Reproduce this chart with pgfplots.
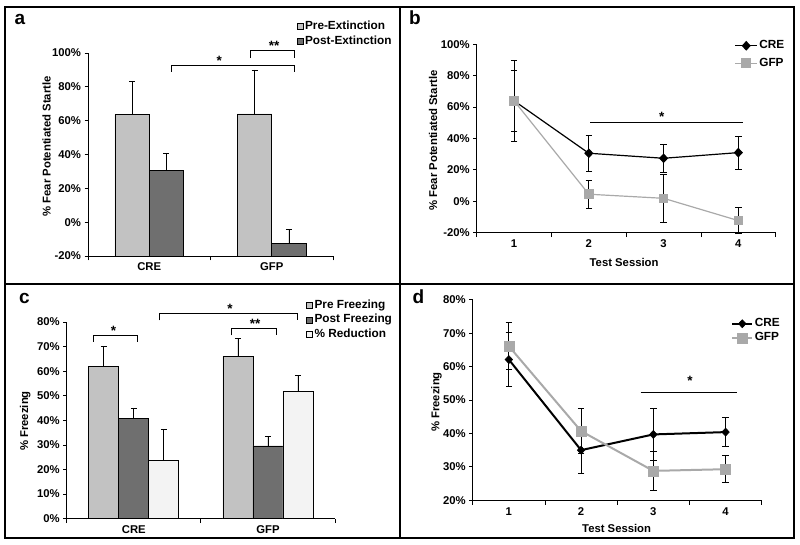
\documentclass[border=0pt]{standalone}
\usepackage{fontspec}
\setmainfont{Liberation Sans}
\usepackage{pgfplots}
\usepackage{pgfplotstable}
\pgfplotsset{compat=1.18}
\definecolor{preC}{HTML}{C2C2C2}
\definecolor{postC}{HTML}{6F6F6F}
\definecolor{redC}{HTML}{F3F3F3}
\definecolor{gfpC}{HTML}{A9A9A9}

\pgfplotstableread{
x pre preerr post posterr
0 63.5 19.5 30.8 10.0
1 64.0 26.0 -12.6 8.3
}\dataA
\pgfplotstableread{
x cre creerr gfp gfperr
1 64.0 19.5 64.0 26.0
2 30.6 11.3 4.5 8.7
3 27.4 9.1 1.9 15.5
4 31.0 10.4 -12.3 8.3
}\dataB
\pgfplotstableread{
x pre preerr post posterr red rederr
0 62.1 8.0 40.7 4.4 23.7 12.6
1 66.0 7.2 29.6 3.9 51.9 6.4
}\dataC
\pgfplotstableread{
x cre creerr gfp gfperr
1 62.1 8.0 66.1 7.0
2 35.0 6.8 40.7 6.7
3 39.7 7.8 28.8 5.9
4 40.4 4.4 29.3 4.0
}\dataD

\pgfplotsset{
  panel/.style={
    scale only axis, anchor=south west, clip=false,
    axis lines*=left,
    axis line style={black, line width=0.8pt},
    tick style={black, line width=0.8pt},
    tick align=outside,
    major tick length=3.5pt, minor tick length=4.5pt,
    major x tick style={draw=none},
    /pgf/number format/assume math mode=true,
    legend cell align=left,
  },
  barleg/.style={legend image code/.code={\draw[##1, line width=0.6pt] (0pt,-3pt) rectangle (6pt,3pt);}},
  barerr/.style={error bars/.cd, y dir=plus, y explicit,
    error bar style={black, line width=0.6pt},
    error mark options={rotate=90, black, mark size=3pt, line width=0.6pt}},
  lineerr/.style={error bars/.cd, y dir=both, y explicit,
    error bar style={black, line width=0.7pt},
    error mark options={rotate=90, black, mark size=3.2pt, line width=0.7pt}},
  legnodes/.style={nodes={inner sep=1.5pt, text height=8pt, text depth=2.5pt}},
}
\tikzset{star/.style={anchor=base, font=\fontsize{13.5}{15}\selectfont\bfseries}}

\begin{document}
\begin{tikzpicture}[x=1pt, y=1pt, font=\fontsize{11.3}{13}\selectfont\bfseries]
\path (0,0) rectangle (800,545);
\draw[line width=1.6pt] (5,7) rectangle (794,538);
\draw[line width=1.6pt] (400,7) -- (400,538);
\draw[line width=1.6pt] (5,261) -- (794,261);

\node[anchor=base west, font=\fontsize{19}{21}\selectfont\bfseries] at (11,520.7) {a};
\node[anchor=base west, font=\fontsize{19}{21}\selectfont\bfseries] at (405.5,520) {b};
\node[anchor=base west, font=\fontsize{19}{21}\selectfont\bfseries] at (15.5,241.3) {c};
\node[anchor=base west, font=\fontsize{19}{21}\selectfont\bfseries] at (409,241.3) {d};

% ---------------- panel a
\begin{axis}[panel, at={(88pt,289pt)}, width=245pt, height=203pt,
  xmin=-0.5, xmax=1.5, ymin=0, ymax=120,
  ytick={0,20,...,120}, yticklabels={-20\%,0\%,20\%,40\%,60\%,80\%,100\%},
  xtick={0,1}, xticklabels={CRE,GFP}, minor xtick={-0.5,0.5,1.5},
  ybar=0pt, bar width=0.28,
  ylabel={\% Fear Potentiated Startle},
  ylabel style={at={(axis description cs:-0.169,0.54)}, anchor=center},
  legend style={at={(axis description cs:0.852,1.165)}, anchor=north west,
    draw=none, fill=none, inner sep=0pt, row sep=1.5pt, legnodes,
    font=\fontsize{11.8}{13}\selectfont\bfseries},
]
\addplot[fill=preC, draw=black, line width=0.6pt, barleg, barerr]
  table[x=x, y expr=\thisrow{pre}+20, y error=preerr]{\dataA};
\addlegendentry{Pre-Extinction}
\addplot[fill=postC, draw=black, line width=0.6pt, barleg, barerr]
  table[x=x, y expr=\thisrow{post}+20, y error=posterr]{\dataA};
\addlegendentry{Post-Extinction}
\addplot[sharp plot, forget plot, black, line width=0.6pt, mark=none]
  coordinates {(0.18,108.8) (0.18,112.9) (1.18,112.9) (1.18,108.8)};
\addplot[sharp plot, forget plot, black, line width=0.6pt, mark=none]
  coordinates {(0.828,117) (0.828,121.8) (1.18,121.8) (1.18,117)};
\node[star] at (axis cs:0.572,112.6) {*};
\node[star] at (axis cs:1.02,121.5) {**};
\end{axis}

% ---------------- panel b
\begin{axis}[panel, at={(476.7pt,312.3pt)}, width=299pt, height=188.4pt,
  xmin=0.5, xmax=4.5, ymin=-20, ymax=100,
  ytick={-20,0,...,100}, yticklabels={-20\%,0\%,20\%,40\%,60\%,80\%,100\%},
  xtick={1,2,3,4}, xticklabels={1,2,3,4}, minor xtick={0.5,1.5,2.5,3.5,4.5},
  xlabel={Test Session},
  xlabel style={at={(axis description cs:0.493,-0.156)}, anchor=center},
  ylabel={\% Fear Potentiated Startle},
  ylabel style={at={(axis description cs:-0.146,0.49)}, anchor=center},
  legend style={at={(axis description cs:0.862,1.029)}, anchor=north west,
    draw=none, fill=none, inner sep=0pt, row sep=4pt, legnodes,
    font=\fontsize{11.8}{13}\selectfont\bfseries},
  legend image code/.code={\draw[mark repeat=2, mark phase=2, #1] plot coordinates {(0pt,0pt) (11pt,0pt) (22pt,0pt)};},
]
\addplot[black, line width=1.2pt, mark=diamond*, mark size=4pt, mark options={solid, xscale=1.25, fill=black}, lineerr]
  table[x=x, y=cre, y error=creerr]{\dataB};
\addlegendentry{CRE}
\addplot[gfpC, line width=1.2pt, mark=square*, mark size=4.2pt, mark options={solid, fill=gfpC, draw=gfpC}, lineerr]
  table[x=x, y=gfp, y error=gfperr]{\dataB};
\addlegendentry{GFP}
\addplot[sharp plot, forget plot, black, line width=0.6pt, mark=none]
  coordinates {(2.016,50.3) (4.06,50.3)};
\node[star] at (axis cs:2.975,50.6) {*};
\end{axis}

% ---------------- panel c
\begin{axis}[panel, at={(66.7pt,26.3pt)}, width=268.3pt, height=196.7pt,
  xmin=-0.5, xmax=1.5, ymin=0, ymax=80,
  ytick={0,10,...,80}, yticklabels={0\%,10\%,20\%,30\%,40\%,50\%,60\%,70\%,80\%},
  xtick={0,1}, xticklabels={CRE,GFP}, minor xtick={-0.5,0.5,1.5},
  ybar=0pt, bar width=0.2236,
  ylabel={\% Freezing},
  ylabel style={at={(axis description cs:-0.155,0.497)}, anchor=center},
  legend style={at={(axis description cs:0.893,1.12)}, anchor=north west,
    draw=none, fill=none, inner sep=0pt, row sep=1pt, legnodes,
    font=\fontsize{11.8}{13}\selectfont\bfseries},
]
\addplot[fill=preC, draw=black, line width=0.6pt, barleg, barerr]
  table[x=x, y=pre, y error=preerr]{\dataC};
\addlegendentry{Pre Freezing}
\addplot[fill=postC, draw=black, line width=0.6pt, barleg, barerr]
  table[x=x, y=post, y error=posterr]{\dataC};
\addlegendentry{Post Freezing}
\addplot[fill=redC, draw=black, line width=0.6pt, barleg, barerr]
  table[x=x, y=red, y error=rederr]{\dataC};
\addlegendentry{\% Reduction}
\addplot[sharp plot, forget plot, black, line width=0.6pt, mark=none]
  coordinates {(-0.301,71.9) (-0.301,74.6) (0.027,74.6) (0.027,71.9)};
\addplot[sharp plot, forget plot, black, line width=0.6pt, mark=none]
  coordinates {(0.189,80.7) (0.189,83.4) (1.222,83.4) (1.222,80.7)};
\addplot[sharp plot, forget plot, black, line width=0.6pt, mark=none]
  coordinates {(0.730,74.6) (0.730,77.6) (1.060,77.6) (1.060,74.6)};
\node[star] at (axis cs:-0.152,74.5) {*};
\node[star] at (axis cs:0.718,83.3) {*};
\node[star] at (axis cs:0.904,77.5) {**};
\end{axis}

% ---------------- panel d
\begin{axis}[panel, at={(472.7pt,44.7pt)}, width=289pt, height=200.6pt,
  xmin=0.5, xmax=4.5, ymin=20, ymax=80,
  ytick={20,30,...,80}, yticklabels={20\%,30\%,40\%,50\%,60\%,70\%,80\%},
  xtick={1,2,3,4}, xticklabels={1,2,3,4}, minor xtick={0.5,1.5,2.5,3.5,4.5},
  xlabel={Test Session},
  xlabel style={at={(axis description cs:0.498,-0.138)}, anchor=center},
  ylabel={\% Freezing},
  ylabel style={at={(axis description cs:-0.125,0.49)}, anchor=center},
  legend style={at={(axis description cs:0.894,0.915)}, anchor=north west,
    draw=none, fill=none, inner sep=0pt, row sep=1pt, legnodes,
    font=\fontsize{11.8}{13}\selectfont\bfseries},
  legend image code/.code={\draw[mark repeat=2, mark phase=2, #1] plot coordinates {(0pt,0pt) (10pt,0pt) (20pt,0pt)};},
]
\addplot[black, line width=2pt, mark=diamond*, mark size=4pt, mark options={solid, xscale=1.25, fill=black, line width=0.6pt}, lineerr]
  table[x=x, y=cre, y error=creerr]{\dataD};
\addlegendentry{CRE}
\addplot[gfpC, line width=2pt, mark=square*, mark size=5pt, mark options={solid, fill=gfpC, draw=gfpC, line width=0.6pt}, lineerr]
  table[x=x, y=gfp, y error=gfperr]{\dataD};
\addlegendentry{GFP}
\addplot[sharp plot, forget plot, black, line width=0.6pt, mark=none]
  coordinates {(2.825,52.2) (4.154,52.2)};
\node[star] at (axis cs:3.508,54.3) {*};
\end{axis}
\end{tikzpicture}
\end{document}
